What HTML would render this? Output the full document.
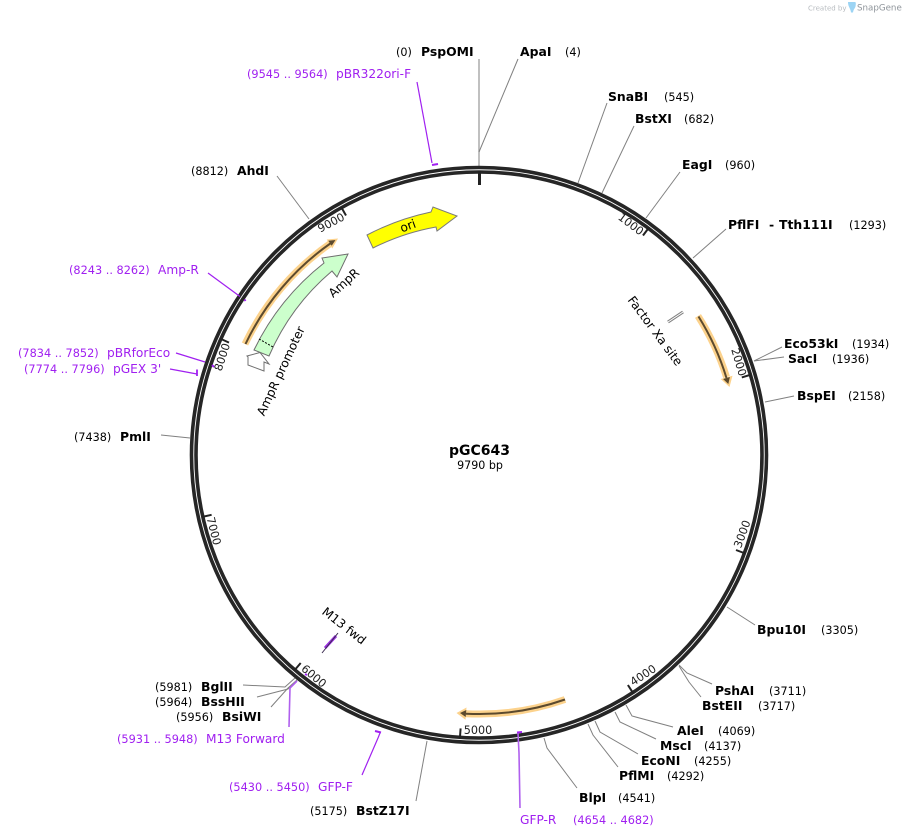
<!DOCTYPE html>
<html><head><meta charset="utf-8">
<style>
html,body{margin:0;padding:0;background:#fff;width:905px;height:838px;overflow:hidden}
svg{display:block}
text{font-family:"DejaVu Sans",sans-serif}
.n{font-size:12.4px;font-weight:bold;fill:#000}
.c{font-size:11.2px;fill:#000}
.p{font-size:12.2px;fill:#a020f0}
.q{font-size:11.3px;fill:#a020f0}
.t{font-size:11.2px;fill:#222}
.f{font-size:12.2px;fill:#000}
.l{stroke:#808080;stroke-width:1;fill:none}
.v{stroke:#a020f0;stroke-width:1.2;fill:none}
.g{stroke:#fcd28c;fill:none;stroke-linecap:butt;stroke-width:7}
.d{stroke:#5c4a2e;fill:none;stroke-width:2}
</style></head><body>
<svg width="905" height="838" viewBox="0 0 905 838" xmlns="http://www.w3.org/2000/svg">
<!-- watermark -->
<text x="808" y="10.500" style="font-size:7px" fill="#b8bcc0">Created by</text>
<path d="M848 2h7c1 0 1 2 .5 4.500c-.5 2-2 2.500-2.500 6h-2c-.3-4-3-5.500-3-10.500z" fill="#9cd4f4"/>
<text x="857" y="10.500" style="font-size:8.700px" fill="#8f959b">SnapGene</text>

<!-- restriction lines -->
<g class="l">
<path d="M479 166V59" style="stroke:#aaa;stroke-width:1.500"/>
<path d="M479 152L518 59"/>
<path d="M578 183L607 103"/>
<path d="M602 193L634 126"/>
<path d="M646 218L680 172"/>
<path d="M693 258L726 229"/>
<path d="M754 361L782 347"/>
<path d="M754 361L784 357"/>
<path d="M765 402L794 396"/>
<path d="M727 607L755 625"/>
<path d="M679 665L687 673L712 684"/>
<path d="M679 666L689 682L701 697"/>
<path d="M626 705L632 716L673 727"/>
<path d="M615 712L620 722L656 739"/>
<path d="M595 721L600 732L638 754"/>
<path d="M588 724L593 735L618 767"/>
<path d="M544 738L547 748L577 788"/>
<path d="M427 741L416 801"/>
<path d="M243 685L285 687L295 678"/>
<path d="M257 697L288 689L297 680"/>
<path d="M271 707L288 688L297 680"/>
<path d="M161 435L190 438"/>
<path d="M277 176L309 219"/>
</g>

<!-- ring -->
<circle cx="479" cy="455" r="287.500" fill="none" stroke="#262626" stroke-width="3.600"/>
<circle cx="479" cy="455" r="283" fill="none" stroke="#262626" stroke-width="3.600"/>

<!-- ticks -->
<g stroke="#222" stroke-width="2">
<path d="M479.500 171V185" stroke-width="3"/>
<path d="M649 227.500L643 235.500"/>
<path d="M751.400 374.500L741.800 377.400"/>
<path d="M745.300 553.500L736 550"/>
<path d="M633.300 693.400L627.900 685"/>
<path d="M459.900 738.300L460.600 728.400"/>
<path d="M294.200 670.600L300.700 663"/>
<path d="M201.800 517L211.600 514.800"/>
<path d="M220 338.500L229 342.600"/>
<path d="M341 206.700L346 215.500"/>
</g>
<g class="t" text-anchor="middle">
<text class="t" transform="translate(631,224) rotate(36.800)" y="4">1000</text>
<text class="t" transform="translate(739,362) rotate(73.500)" y="4">2000</text>
<text class="t" transform="translate(742,534) rotate(-70)" y="4">3000</text>
<text class="t" transform="translate(643,675) rotate(-33)" y="4">4000</text>
<text class="t" transform="translate(478,730)" y="4">5000</text>
<text class="t" transform="translate(314,676) rotate(40)" y="4">6000</text>
<text class="t" transform="translate(214,531) rotate(76)" y="4">7000</text>
<text class="t" transform="translate(222,357) rotate(-72)" y="4">8000</text>
<text class="t" transform="translate(331,222.500) rotate(-28)" y="4">9000</text>
</g>

<!-- orange features -->
<path class="g" d="M245 344A259 259 0 0 1 331 243"/>
<polygon points="338,238.500 326.700,239.500 332.300,248.500" fill="#fcd28c"/>
<path class="d" d="M245.500 344A259 259 0 0 1 331 243"/>
<polygon points="335.500,240 328.300,240.800 331.700,245.800" fill="#5c4a2e"/>

<path class="g" d="M698 316A259 259 0 0 1 726.500 377"/>
<polygon points="729.500,387 732.500,375.800 720.700,379" fill="#fcd28c"/>
<path class="d" d="M698.500 316.500A259 259 0 0 1 726.500 378"/>
<polygon points="728.300,384 729.900,377 723.100,379" fill="#5c4a2e"/>

<path class="g" d="M565 699.500A259 259 0 0 1 466 713.700"/>
<polygon points="456.500,713 465.500,719.700 466.500,707.500" fill="#fcd28c"/>
<path class="d" d="M565 699.500A259 259 0 0 1 466 713.700"/>
<polygon points="460,713 465.700,717 466.300,710" fill="#5c4a2e"/>

<!-- directional features -->
<path d="M367 235A247 247 0 0 1 431 212L433 207L457 216L437 231L436 227A232 232 0 0 0 373 248Z" fill="#ffff00" stroke="#7a7a7a" stroke-width="1"/>
<path d="M254 350A248 248 0 0 1 324 263L322 258L348 254L337 277L332 271A232 232 0 0 0 269 356Z" fill="#ccffcc" stroke="#6e6e6e" stroke-width="1"/>
<path d="M259 339L273 347" stroke="#000" stroke-width="1" stroke-dasharray="2 1.500"/>
<polygon points="247,356 260,352.500 269,364 264,362 264,371 248,365 248,357" fill="#fff" stroke="#707070" stroke-width="1"/>

<!-- Factor Xa -->
<path d="M668 322L683 312" stroke="#808080" stroke-width="3" fill="none"/>
<path d="M668 322L683 312" stroke="#fff" stroke-width="1" fill="none"/>

<!-- M13 fwd marker -->
<path d="M325 648L336 636" stroke="#9a30e0" stroke-width="3" fill="none"/>
<path d="M322 653L338 633" stroke="#3a2a50" stroke-width="1" fill="none"/>

<!-- feature labels -->
<g text-anchor="middle">
<text class="f" transform="translate(408,226) rotate(-20)" y="4">ori</text>
<text class="f" transform="translate(344,283) rotate(-42)" y="4">AmpR</text>
<text class="f" transform="translate(281,371) rotate(-65)" y="4">AmpR promoter</text>
<text class="f" transform="translate(655,331) rotate(53.500)" y="4">Factor Xa site</text>
<text class="f" transform="translate(344,626) rotate(38)" y="4">M13 fwd</text>
</g>

<!-- primer leaders -->
<g class="v">
<path d="M417 82L432 163"/>
<path d="M432 165L438 164" style="stroke-width:2"/>
<path d="M208 273L240 296.500"/>
<path d="M244.500 299.500L245.500 301" style="stroke-width:2"/>
<path d="M176 353L205 362"/>
<path d="M212 365L214 367" style="stroke-width:2"/>
<path d="M170 369L197 374"/>
<path d="M197 369.500V376" style="stroke-width:1.800"/>
<path d="M289 727L290 688L297 681" style="stroke:#b060ee;stroke-width:1.600"/>
<path d="M362 775L378 738L380 733"/>
<path d="M375 731L381 732.500" style="stroke-width:2"/>
<path d="M520 808L519 753L518 733" style="stroke:#b060ee;stroke-width:1.600"/>
<path d="M517 732.500L522 732" style="stroke-width:2"/>
<path d="M305 674L307 675" style="stroke-width:2"/>
</g>

<!-- center -->
<text x="479.500" y="455" text-anchor="middle" style="font-size:14px;font-weight:bold" fill="#000">pGC643</text>
<text x="480" y="469" text-anchor="middle" style="font-size:11.100px" fill="#000">9790 bp</text>

<!-- site labels -->
<text class="c" x="396" y="56">(0)</text><text class="n" x="421" y="56">PspOMI</text>
<text class="n" x="520" y="56">ApaI</text><text class="c" x="565" y="56">(4)</text>
<text class="n" x="608" y="101">SnaBI</text><text class="c" x="664" y="101">(545)</text>
<text class="n" x="635" y="123">BstXI</text><text class="c" x="684" y="123">(682)</text>
<text class="n" x="682" y="169">EagI</text><text class="c" x="725" y="169">(960)</text>
<text class="n" x="728" y="229">PflFI</text><text class="n" x="769" y="229">-</text><text class="n" x="779" y="229">Tth111I</text><text class="c" x="849" y="229">(1293)</text>
<text class="n" x="784" y="348">Eco53kI</text><text class="c" x="852" y="348">(1934)</text>
<text class="n" x="788" y="363">SacI</text><text class="c" x="832" y="363">(1936)</text>
<text class="n" x="797" y="400">BspEI</text><text class="c" x="848" y="400">(2158)</text>
<text class="n" x="757" y="634">Bpu10I</text><text class="c" x="821" y="634">(3305)</text>
<text class="n" x="715" y="695">PshAI</text><text class="c" x="769" y="695">(3711)</text>
<text class="n" x="702" y="710">BstEII</text><text class="c" x="758" y="710">(3717)</text>
<text class="n" x="677" y="735">AleI</text><text class="c" x="718" y="735">(4069)</text>
<text class="n" x="660" y="750">MscI</text><text class="c" x="704" y="750">(4137)</text>
<text class="n" x="641" y="765">EcoNI</text><text class="c" x="694" y="765">(4255)</text>
<text class="n" x="619" y="780">PflMI</text><text class="c" x="667" y="780">(4292)</text>
<text class="n" x="579" y="802">BlpI</text><text class="c" x="618" y="802">(4541)</text>
<text class="p" x="520" y="824">GFP-R</text><text class="q" x="573" y="824">(4654 .. 4682)</text>
<text class="c" x="310" y="815">(5175)</text><text class="n" x="356" y="815">BstZ17I</text>
<text class="q" x="229" y="791">(5430 .. 5450)</text><text class="p" x="318" y="791">GFP-F</text>
<text class="q" x="117" y="743">(5931 .. 5948)</text><text class="p" x="206" y="743">M13 Forward</text>
<text class="c" x="176" y="721">(5956)</text><text class="n" x="222" y="721">BsiWI</text>
<text class="c" x="155" y="706">(5964)</text><text class="n" x="201" y="706">BssHII</text>
<text class="c" x="155" y="691">(5981)</text><text class="n" x="201" y="691">BglII</text>
<text class="c" x="74" y="441">(7438)</text><text class="n" x="120" y="441">PmlI</text>
<text class="q" x="24" y="373">(7774 .. 7796)</text><text class="p" x="113" y="373">pGEX 3'</text>
<text class="q" x="18" y="357">(7834 .. 7852)</text><text class="p" x="107" y="357">pBRforEco</text>
<text class="q" x="69" y="274">(8243 .. 8262)</text><text class="p" x="158" y="274">Amp-R</text>
<text class="c" x="191" y="175">(8812)</text><text class="n" x="237" y="175">AhdI</text>
<text class="q" x="247" y="78">(9545 .. 9564)</text><text class="p" x="336" y="78">pBR322ori-F</text>
</svg>
</body></html>
